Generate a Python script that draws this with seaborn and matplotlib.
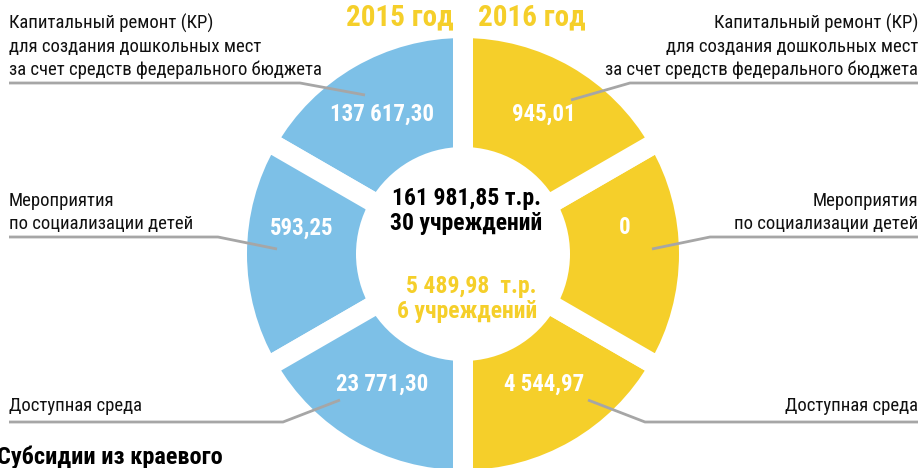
import matplotlib
matplotlib.use("Agg")
import matplotlib.pyplot as plt
import seaborn as sns
import numpy as np

# ### Data
categories = [
    "Капитальный ремонт (КР)\nдля создания дошкольных мест\nза счет средств федерального бюджета",
    "Мероприятия\nпо социализации детей",
    "Доступная среда",
]
values_2015 = [137617.30, 593.25, 23771.30]
values_2016 = [945.01, 0, 4544.97]
years = ["2015 год", "2016 год"]
total_2015 = "161 981,85 т.р.\n30 учреждений"
total_2016 = "5 489,98  т.р.\n6 учреждений"
footer = "Субсидии из краевого"
# every segment of the ring has the same size
shares = [1, 1, 1, 1, 1, 1]

BLUE = "#7dc0e7"
YELLOW = "#f5cf2a"
GREY = "#a6a6a6"

sns.set_theme(style="white")
plt.rcParams['font.family'] = ['Roboto Condensed', 'DejaVu Sans']

W, H = 923, 468
fig = plt.figure(figsize=(W / 100, H / 100), dpi=100)
ax = fig.add_axes([0, 0, 1, 1])


def fmt(v):
    if v == 0:
        return "0"
    s = "{:,.2f}".format(v)
    return s.replace(",", " ").replace(".", ",")


# ring: centre in pixel coords (y measured from top)
cx, cy = 463, 254
r_out, r_in = 216, 107
gap = 20
colors = [BLUE] * 3 + [YELLOW] * 3
wedges, _ = ax.pie(shares, colors=colors, startangle=90, counterclock=True,
                   center=(cx, H - cy), radius=r_out + gap / 2,
                   wedgeprops=dict(width=r_out - r_in + gap,
                                   edgecolor="white", linewidth=gap * 0.72))

ax.set_xlim(0, W)
ax.set_ylim(0, H)
ax.set_aspect("equal")
ax.axis("off")

# values inside the segments (blue: top, middle, bottom; yellow: bottom, middle, top)
seg_values = [fmt(v) for v in values_2015] + [fmt(v) for v in values_2016[::-1]]
r_mid = (r_out + r_in) / 2
for i, (w, txt) in enumerate(zip(wedges, seg_values)):
    ang = np.deg2rad((w.theta1 + w.theta2) / 2)
    x = cx + r_mid * np.cos(ang)
    y = (H - cy) + r_mid * np.sin(ang)
    if i in (1, 4):
        y += 26
    elif i in (2, 3):
        y += 10
    ax.text(x, y, txt, color="white", fontsize=16.5, fontweight="bold",
            ha="center", va="center", zorder=5)

# year titles
ax.text(400, H - 17, years[0], color=YELLOW, fontsize=21, fontweight="bold",
        ha="center", va="center")
ax.text(532, H - 17, years[1], color=YELLOW, fontsize=21, fontweight="bold",
        ha="center", va="center")

# totals in the middle
ax.text(466, H - 211, total_2015, color="black", fontsize=17, fontweight="bold",
        ha="center", va="center", linespacing=1.15)
ax.text(537, H - 299, total_2016, color=YELLOW, fontsize=17, fontweight="bold",
        ha="right", va="center", linespacing=1.15, multialignment="right")

# category labels and leader lines
label_y = [22, 200, 405]
line_y = [83, 237, 422]
elbow_left = [(300, 365, 95), (218, 277, 249), (283, 340, 400)]
elbow_right = [(630, 571, 100), (710, 652, 249), (645, 588, 400)]
for cat, ly, hy, el, er in zip(categories, label_y, line_y, elbow_left, elbow_right):
    ax.text(9, H - ly + 8, cat, fontsize=13.5, color="#111111", ha="left",
            va="top", linespacing=1.34)
    ax.text(918, H - ly + 8, cat, fontsize=13.5, color="#111111", ha="right",
            va="top", linespacing=1.34, multialignment="right")
    ax.plot([9, el[0], el[1]], [H - hy, H - hy, H - el[2]], color=GREY, lw=2,
            solid_capstyle="butt", zorder=4)
    ax.plot([918, er[0], er[1]], [H - hy, H - hy, H - er[2]], color=GREY, lw=2,
            solid_capstyle="butt", zorder=4)

ax.text(-3, H - 457, footer, fontsize=17.5, fontweight="bold", color="black",
        ha="left", va="center")

fig.savefig("out.png", dpi=100)
